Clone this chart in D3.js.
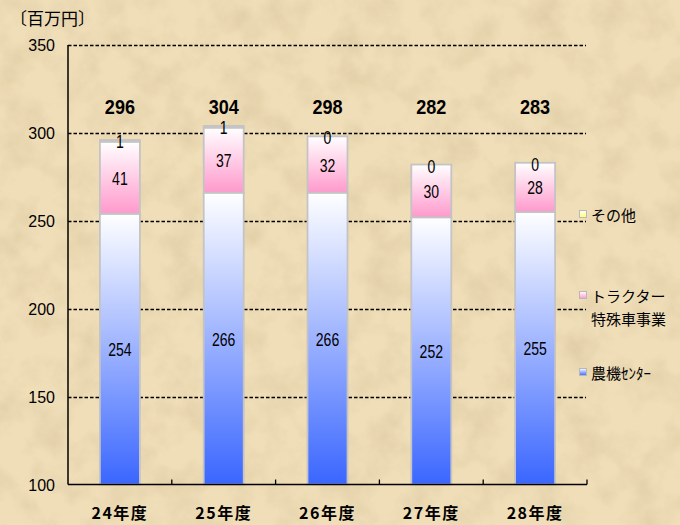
<!DOCTYPE html>
<html>
<head>
<meta charset="utf-8">
<script src="https://cdn.jsdelivr.net/npm/d3@7"></script>
<style>
  body { margin: 0; background: #efdcb5; }
  svg { display: block; }
</style>
</head>
<body>
<svg id="chart" width="680" height="525"></svg>
<script>
// data
let years = ["24年度", "25年度", "26年度", "27年度", "28年度"];
let center = [254, 266, 266, 252, 255];   // 農機センター
let tractor = [41, 37, 32, 30, 28];       // トラクター特殊車事業
let other = [1, 1, 0, 0, 0];              // その他
let totals = [296, 304, 298, 282, 283];
let yTicks = [100, 150, 200, 250, 300, 350];

let width = 680, height = 525;
let plotLeft = 68, plotRight = 587, plotTop = 45, plotBottom = 484.5;

let svg = d3.select("#chart");
let defs = svg.append("defs");

// paper texture
let f = defs.append("filter").attr("id", "paper").attr("x", 0).attr("y", 0).attr("width", 1).attr("height", 1);
f.append("feTurbulence").attr("type", "fractalNoise").attr("baseFrequency", "0.03").attr("numOctaves", 4).attr("seed", 7);
f.append("feColorMatrix").attr("type", "matrix")
  .attr("values", "0 0 0 0 0.60  0 0 0 0 0.48  0 0 0 0 0.28  1.3 0 0 0 -0.52");

svg.append("rect").attr("width", width).attr("height", height).attr("fill", "#f0deb8");
svg.append("rect").attr("width", width).attr("height", height).attr("filter", "url(#paper)").attr("opacity", 0.6);

function grad(id, c) {
  let g = defs.append("linearGradient").attr("id", id).attr("x1", 0).attr("y1", 0).attr("x2", 0).attr("y2", 1);
  g.append("stop").attr("offset", "0%").attr("stop-color", "#ffffff");
  g.append("stop").attr("offset", "100%").attr("stop-color", c);
}
grad("gBlue", "#3a66ff");
grad("gPink", "#ff99cc");
grad("gYellow", "#ffff66");

let x = d3.scaleBand().domain(years).range([plotLeft, plotRight]);
let y = d3.scaleLinear().domain([100, 350]).range([plotBottom, plotTop]);

// gridlines
svg.selectAll(".grid").data(yTicks.filter(d => d > 100))
  .enter().append("line")
  .attr("class", "grid")
  .attr("x1", plotLeft).attr("x2", plotRight - 1)
  .attr("y1", d => Math.round(y(d)) + 0.5).attr("y2", d => Math.round(y(d)) + 0.5)
  .attr("stroke", "#000").attr("stroke-width", 1.4)
  .attr("stroke-dasharray", "3.5,2");

// stacks
let series = [
  {vals: center, fill: "url(#gBlue)"},
  {vals: tractor, fill: "url(#gPink)"},
  {vals: other, fill: "url(#gYellow)"}
];
let barW = 40;
years.forEach(function (yr, i) {
  let cx = x(yr) + x.bandwidth() / 2;
  let cum = 0;
  series.forEach(function (s) {
    let v0 = Math.max(cum, 100);
    cum += s.vals[i];
    svg.append("rect")
      .attr("x", cx - barW / 2).attr("width", barW)
      .attr("y", y(cum)).attr("height", Math.max(0, y(v0) - y(cum)))
      .attr("fill", s.fill)
      .attr("stroke", "#c4c4c4").attr("stroke-width", 1.8);
  });
});

// axes lines
svg.append("line").attr("x1", plotLeft).attr("x2", plotLeft).attr("y1", plotTop).attr("y2", plotBottom)
  .attr("stroke", "#000").attr("stroke-width", 1.5);
svg.append("line").attr("x1", plotLeft).attr("x2", plotRight).attr("y1", plotBottom).attr("y2", plotBottom)
  .attr("stroke", "#000").attr("stroke-width", 1.5);
// category ticks
svg.selectAll(".ctick").data(years.slice(1).concat(["end"]))
  .enter().append("line")
  .attr("x1", d => d === "end" ? plotRight : x(d)).attr("x2", d => d === "end" ? plotRight : x(d))
  .attr("y1", plotBottom).attr("y2", plotBottom - 5)
  .attr("stroke", "#000").attr("stroke-width", 1.3);

// y tick labels
svg.selectAll(".ylab").data(yTicks).enter().append("text")
  .attr("x", 55).attr("y", d => y(d) + 6)
  .attr("text-anchor", "end")
  .attr("font-family", "Liberation Sans, Arial, sans-serif")
  .attr("font-size", 16).attr("fill", "#000")
  .text(d => d);

// unit
svg.append("text").attr("x", 10).attr("y", 25)
  .attr("font-family", "Noto Sans CJK JP, sans-serif")
  .attr("font-size", 17).attr("fill", "#000")
  .text("〔百万円〕");

// category labels
svg.selectAll(".xlab").data(years).enter().append("text")
  .attr("x", d => x(d) + x.bandwidth() / 2).attr("y", 519)
  .attr("text-anchor", "middle")
  .attr("font-family", "Noto Sans CJK JP, sans-serif")
  .attr("font-weight", "bold").attr("letter-spacing", "1.5px")
  .attr("font-size", 16).attr("fill", "#000")
  .text(d => d);

function numLabel(cx, cy, txt, size, bold, sx) {
  svg.append("text")
    .attr("transform", "translate(" + cx + "," + cy + ") scale(" + sx + ",1)")
    .attr("text-anchor", "middle")
    .attr("font-family", "Liberation Sans, Arial, sans-serif")
    .attr("font-weight", bold ? "bold" : "normal")
    .attr("font-size", size).attr("fill", "#000")
    .text(txt);
}

years.forEach(function (yr, i) {
  let cx = x(yr) + x.bandwidth() / 2;
  numLabel(cx, (y(100) + y(center[i])) / 2 + 7, center[i], 19, false, 0.74);
  numLabel(cx, (y(center[i]) + y(center[i] + tractor[i])) / 2 + 7, tractor[i], 19, false, 0.74);
  numLabel(cx, y(totals[i]) + 8, other[i], 19, false, 0.74);
  numLabel(cx, y(311), totals[i], 21, true, 0.86);
});

// legend
let legend = [
  {lines: ["その他"], fill: "url(#gYellow)", y: 215},
  {lines: ["トラクター", "特殊車事業"], fill: "url(#gPink)", y: 296},
  {lines: ["農機ｾﾝﾀｰ"], fill: "url(#gBlue)", y: 373}
];
legend.forEach(function (l) {
  svg.append("rect").attr("x", 579.5).attr("y", l.y - 4.5).attr("width", 7).attr("height", 7)
    .attr("fill", l.fill).attr("stroke", "#b8b8b8").attr("stroke-width", 1);
  l.lines.forEach(function (t, j) {
    svg.append("text").attr("x", 591).attr("y", l.y + 6 + j * 23)
      .attr("font-family", "Noto Sans CJK JP, sans-serif")
      .attr("font-size", 15).attr("fill", "#000")
      .text(t);
  });
});
</script>
</body>
</html>
